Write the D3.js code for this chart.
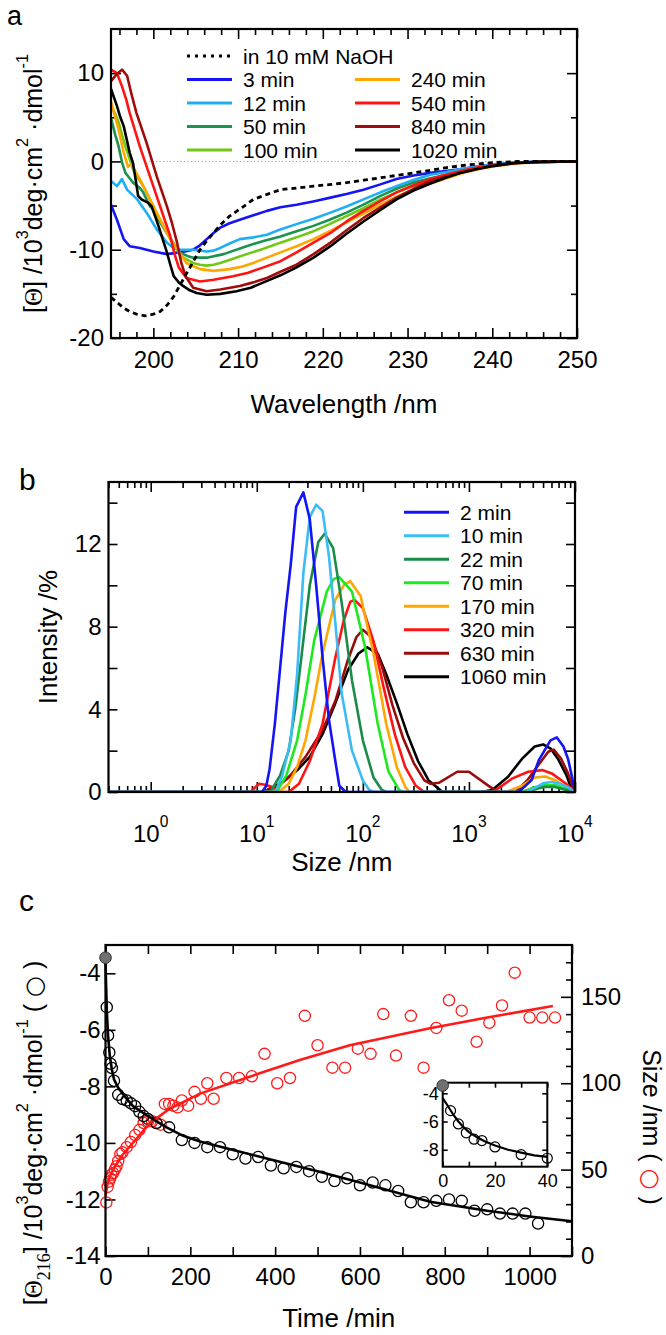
<!DOCTYPE html>
<html><head><meta charset="utf-8">
<script src="https://cdn.jsdelivr.net/npm/d3@7"></script>
<style>body{margin:0;background:#fff}svg{display:block}text{font-family:"Liberation Sans",Arial,Helvetica,sans-serif;fill:#000}</style>
</head><body>
<script>
// ---------------- Panel a data (wavelength nm, [Θ] 10^3 deg cm2 dmol-1) ----------------
const aNaOH=[[195,-15.4],[195.5,-15.8],[196.5,-16.6],[197.2,-17.0],[198,-17.3],[199,-17.5],[200,-17.3],[200.8,-17.0],[201.6,-16.3],[202.4,-15.3],[203.5,-13.4],[204.5,-11.7],[205.5,-10.0],[206.3,-9.0],[207.1,-8.1],[208,-7.1],[209,-6.2],[210.5,-5.2],[211.8,-4.3],[213.5,-3.7],[215,-3.2],[217,-3.0],[218.9,-2.8],[221,-2.6],[222.8,-2.4],[225,-2.1],[226.8,-1.85],[229,-1.55],[230.7,-1.3],[232.7,-1.0],[234.6,-0.7],[237,-0.4],[240,-0.15],[243,0],[250,0]];
const a3=[[195,-4.9],[195.7,-6.6],[196.5,-8.8],[197.2,-9.6],[198.4,-9.8],[199.2,-10.0],[200,-10.2],[201.6,-10.5],[203.1,-10.3],[204.7,-10.0],[205.5,-9.5],[206.3,-8.8],[207.1,-8.1],[207.9,-7.5],[209,-7.0],[210.2,-6.6],[211.8,-6.1],[213.4,-5.6],[215,-5.2],[216.9,-4.9],[219,-4.5],[220.9,-4.1],[222.8,-3.7],[224.8,-3.2],[226.8,-2.6],[228.7,-2.0],[230.7,-1.6],[232.7,-1.3],[234.5,-1.1],[236.2,-0.9],[238,-0.6],[240,-0.35],[242,-0.15],[245,-0.05],[250,0]];
const a12=[[195,-2.2],[195.7,-2.8],[196.3,-2.0],[196.9,-3.2],[198.1,-4.3],[199.2,-5.8],[200.4,-7.7],[201.6,-9.2],[202.4,-9.8],[203.1,-10.0],[204.7,-10.0],[206.3,-10.2],[207.1,-10.1],[207.9,-9.8],[209,-9.3],[210.2,-8.8],[211.8,-8.6],[213.4,-8.3],[215,-7.7],[216.9,-7.1],[218.9,-6.5],[220.9,-5.8],[222.8,-5.1],[224.8,-4.3],[226.8,-3.5],[228.7,-2.8],[230.7,-2.1],[232.7,-1.5],[234.6,-1.2],[236.2,-0.9],[238,-0.6],[240,-0.35],[242,-0.15],[245,-0.05],[250,0]];
const a50=[[195,4.9],[195.5,3.0],[195.9,1.7],[196.3,-0.1],[196.7,-1.3],[197.2,-1.9],[197.6,-2.4],[198.4,-3.0],[198.8,-3.5],[199.6,-5.1],[200,-5.4],[200.8,-6.9],[201.6,-8.1],[202.4,-9.3],[203.1,-10.3],[204,-10.7],[204.7,-10.9],[206.3,-10.9],[208.3,-10.5],[211,-9.6],[213,-9.0],[215,-8.5],[216.9,-7.9],[218.9,-7.3],[220.8,-6.6],[222.8,-5.8],[224.8,-4.9],[226.8,-3.9],[228.7,-3.1],[230.7,-2.4],[232.7,-1.9],[234.6,-1.5],[236.5,-1.1],[238.5,-0.7],[240.5,-0.4],[243,-0.15],[246,-0.05],[250,0]];
const a100=[[195,6.3],[195.5,5.4],[195.9,4.4],[196.3,3.0],[196.7,1.7],[197.2,0.3],[197.6,-0.9],[198.2,-1.9],[198.8,-2.8],[199.4,-3.9],[200,-5.1],[200.8,-6.6],[201.6,-8.1],[202.2,-9.1],[202.8,-10.0],[203.1,-10.6],[203.9,-11.1],[204.7,-11.5],[205.5,-11.7],[206.3,-11.8],[207.1,-11.7],[207.9,-11.5],[209.5,-11.0],[211,-10.5],[213,-9.9],[215,-9.2],[216.9,-8.6],[218.9,-7.9],[220.8,-7.1],[222.8,-6.2],[224.8,-5.3],[226.8,-4.3],[228.7,-3.5],[230.7,-2.8],[232.7,-2.2],[234.6,-1.7],[236.5,-1.2],[238.5,-0.8],[240.5,-0.45],[243,-0.15],[246,-0.05],[250,0]];
const a240=[[195,6.8],[195.5,5.0],[195.9,3.6],[196.5,1.0],[197,-0.6],[197.4,-0.3],[198.4,-2.0],[199.6,-4.3],[200.8,-6.6],[202,-8.8],[203.1,-10.3],[203.9,-11.5],[205.5,-12.2],[207.1,-12.4],[209,-12.2],[210.5,-11.9],[211.8,-11.5],[213.4,-10.9],[215,-10.3],[216.9,-9.6],[218.9,-8.8],[220.8,-7.9],[222.8,-6.9],[224.8,-5.9],[226.8,-4.9],[228.7,-4.0],[230.7,-3.2],[232.7,-2.5],[234.6,-1.9],[236.5,-1.3],[238.5,-0.85],[240.5,-0.5],[243,-0.2],[246,-0.05],[250,0]];
const a540=[[195,10.4],[195.7,10.0],[196.3,8.5],[196.8,7.0],[197.2,5.5],[197.8,3.6],[198.4,1.7],[199,0.0],[199.6,-1.7],[200.2,-3.4],[200.8,-5.1],[201.4,-6.8],[202,-8.5],[202.5,-10.5],[203,-12.0],[203.9,-13.2],[205.5,-13.6],[207.1,-13.4],[209.4,-13.0],[211.2,-12.6],[213,-12.0],[215,-11.3],[216.9,-10.3],[218.9,-9.2],[220.9,-8.1],[222.8,-6.8],[224.8,-5.6],[226.8,-4.5],[228.7,-3.5],[230.7,-2.7],[232.7,-2.0],[234.5,-1.5],[236.2,-1.1],[238.2,-0.7],[240.2,-0.4],[243,-0.15],[246,-0.05],[250,0]];
const a840=[[195,9.1],[195.7,9.9],[196.3,10.4],[196.9,9.7],[197.4,7.7],[198,5.5],[198.6,3.8],[199.2,2.1],[199.8,0.2],[200.4,-1.7],[201,-3.4],[201.6,-5.1],[202.2,-7.0],[202.8,-9.2],[203.3,-11.5],[203.8,-13.0],[204.7,-14.3],[206.3,-14.7],[207.9,-14.5],[210.2,-14.1],[211.8,-13.7],[213.4,-13.2],[215,-12.5],[216.9,-11.7],[218.9,-10.5],[220.9,-9.2],[222.8,-7.8],[224.8,-6.4],[226.8,-5.2],[228.7,-4.1],[230.7,-3.1],[232.7,-2.2],[234.5,-1.7],[236.2,-1.3],[238.2,-0.85],[240.2,-0.5],[242.5,-0.2],[245.5,-0.05],[250,0]];
const a1020=[[195,8.2],[195.7,6.3],[196.1,5.0],[196.5,4.0],[196.9,2.3],[197.2,1.0],[197.6,-0.2],[197.9,-2.0],[198.2,-3.9],[198.6,-4.3],[199,-4.5],[199.4,-4.7],[199.8,-5.1],[200.2,-6.2],[200.6,-7.3],[201.1,-8.8],[201.6,-10.3],[202,-11.7],[202.4,-13.0],[203,-13.7],[203.5,-14.1],[204.3,-14.6],[205.1,-14.9],[206.3,-15.1],[207.9,-15.0],[209.8,-14.7],[211.5,-14.3],[213,-13.7],[215,-12.9],[216.9,-12.0],[218.9,-10.9],[220.9,-9.6],[222.8,-8.2],[224.8,-6.8],[226.8,-5.5],[228.7,-4.3],[230.7,-3.3],[232.7,-2.5],[234.5,-1.85],[236.2,-1.3],[238.2,-0.85],[240.2,-0.5],[242.5,-0.2],[245.5,-0.05],[250,0]];
const aSeriesLabels=["3 min","12 min","50 min","100 min","240 min","540 min","840 min","1020 min"];
const aColors=["#1414f5","#1eaef5","#1a9450","#70c814","#ffa600","#ff1414","#a00c0c","#000000"];
const aXTicks=[200,210,220,230,240,250];
const aYTicks=[-20,-10,0,10];

// ---------------- Panel b data (size nm, intensity %) ----------------
const b2=[[0.4,0],[11.2,0],[12.3,0.3],[13.2,1.1],[14.8,3.3],[16.6,6.0],[18.6,8.7],[20.9,11.0],[23.5,13.8],[27.5,14.5],[31.6,13.2],[36.3,10.0],[41.7,6.5],[47.9,3.5],[55,1.5],[60,0.3],[69,0],[2950,0],[3900,0.58],[4560,1.54],[5870,2.5],[6740,2.64],[7780,2.2],[8600,1.6],[9400,0.7],[10000,0]];
const b10=[[0.4,0],[15,0],[17.4,0.8],[20.9,2.5],[24,5.7],[27.5,10.6],[31.6,13.3],[36.3,13.9],[41.7,13.6],[47.9,11.4],[55,8.2],[63,4.8],[79,2.0],[100,0.56],[115,0.1],[126,0],[3500,0],[4200,0.2],[5000,0.42],[6000,0.48],[7200,0.4],[8500,0.25],[10000,0]];
const b22=[[0.4,0],[13,0],[13.8,0.1],[16.6,0.8],[20,2.0],[23,4.0],[26.3,6.5],[31.6,10],[38,12.1],[43.6,12.5],[52.5,11.8],[63,9.2],[79,5.4],[100,2.5],[126,0.7],[151,0.1],[166,0],[3500,0],[4300,0.15],[5200,0.25],[6300,0.25],[7600,0.15],[10000,0]];
const b70=[[0.4,0],[14,0],[15.8,0.1],[19,0.8],[24,2.5],[29,4.8],[34.7,7.3],[45.7,9.7],[53,10.3],[60,10.4],[79,9.7],[105,7.0],[138,3.3],[174,1.0],[219,0.1],[240,0],[3160,0],[4000,0.2],[5000,0.33],[6600,0.33],[8300,0.15],[10000,0]];
const b170=[[0.4,0],[15,0],[17,0.1],[20,0.4],[24,1.2],[28.8,2.5],[34.7,4.5],[41.7,6.7],[55,9.3],[66,10.0],[76,10.2],[95,9.5],[126,6.7],[166,3.3],[209,1.2],[251,0.25],[275,0],[2240,0],[3160,0.3],[4170,0.7],[5250,0.75],[6600,0.55],[8300,0.25],[10000,0]];
const b320=[[0.4,0],[8.7,0],[10.5,0.4],[12,0.35],[13.8,0.25],[16.6,0],[20,0],[25,0.4],[31.6,1.5],[41.7,3.3],[55,6.5],[66,8.3],[76,9.2],[83,9.3],[100,8.9],[126,7.3],[158,5.0],[200,2.8],[251,1.2],[316,0.3],[380,0],[1700,0],[1800,0.1],[2570,0.66],[3630,0.98],[4900,1.06],[6030,0.9],[8130,0.42],[10000,0]];
const b630=[[0.4,0],[11.5,0],[12,0.05],[16,0.3],[20,0.7],[28.8,1.7],[41.7,3.0],[55,4.4],[72.4,6.4],[87,7.5],[100,7.85],[120,7.5],[151,6.1],[190,4.2],[240,2.6],[302,1.4],[380,0.56],[436,0.4],[525,0.45],[776,0.98],[1000,0.98],[1580,0.25],[1900,0],[2750,0],[3600,0.6],[4500,1.3],[5600,1.95],[6300,2.05],[7400,1.6],[8600,0.9],[10000,0]];
const b1060=[[0.4,0],[11.5,0],[16.6,0.4],[24,1.05],[31.6,1.7],[41.7,2.8],[55,4.3],[72.4,5.9],[91,6.7],[110,7.0],[138,6.7],[166,5.7],[209,4.3],[263,2.8],[331,1.5],[417,0.56],[550,0.05],[580,0],[1300,0],[1660,0.1],[2340,0.74],[3160,1.6],[4170,2.2],[5010,2.3],[5890,2.1],[6920,1.6],[8320,0.8],[9330,0.1],[10000,0]];
const bSeriesLabels=["2 min","10 min","22 min","70 min","170 min","320 min","630 min","1060 min"];
const bColors=["#1414f5","#3cbcf5","#1a8c48","#1ee81e","#ffa600","#ff1414","#9a0c0c","#000000"];
const bXTicks=[1,10,100,1000,10000];
const bXExp=[0,1,2,3,4];
const bYTicks=[0,4,8,12];

// ---------------- Panel c data ----------------
const cThetaT=[3,6,9,12,15,20,30,40,50,60,70,80,90,100,120,150,180,210,240,270,300,330,360,390,420,450,480,510,540,570,600,630,660,690,720,750,780,810,840,870,900,930,960,990,1020];
const cThetaV=[-5.2,-6.2,-6.8,-7.2,-7.35,-7.8,-8.3,-8.45,-8.5,-8.6,-8.7,-8.9,-9.05,-9.15,-9.3,-9.45,-9.9,-10.0,-10.15,-10.15,-10.4,-10.55,-10.5,-10.8,-10.9,-10.85,-11.0,-11.2,-11.35,-11.25,-11.5,-11.4,-11.5,-11.7,-12.1,-12.1,-12.05,-12.0,-12.05,-12.4,-12.35,-12.5,-12.5,-12.5,-12.85];
const cTheta0=[0,-3.45];
const cThetaFitT=[0,1,3,6,10,15,20,30,45,65,105,144,183,223,301,380,500,600,765,900,1000,1100];
const cThetaFitV=[-3.45,-4.2,-5.3,-6.2,-6.9,-7.4,-7.75,-8.05,-8.35,-8.7,-9.1,-9.45,-9.75,-9.95,-10.25,-10.55,-11.0,-11.4,-12.08,-12.4,-12.6,-12.77];
const cSizeT=[2,5,8,11,14,18,22,26,30,35,40,50,60,70,80,90,100,110,120,130,140,150,160,170,180,195,210,225,240,255,285,315,345,375,405,435,470,500,535,565,595,625,655,685,720,750,780,810,840,875,905,935,965,1000,1030,1060];
const cSizeV=[31,40,43,45,47,48,50,52,55,59,60,63,66,70,73,77,78,78,77,76,88,88,87,86,90,87,95,91,100,91,103,103,104,117,100,103,139,122,109,109,120,117,140,116,139,109,132,148,142,124,135,145,164,138,138,138];
const cSizeFitT=[0,5,10,20,40,70,105,150,223,340,458,576,765,900,1055];
const cSizeFitV=[35,42,46,51,58.5,67,77,85,94,103.8,113.4,122,131.8,138,144.7];
const insetT=[3,6,9,12,15,20,30,40];
const insetV=[-5.23,-6.17,-6.8,-7.25,-7.35,-7.8,-8.35,-8.6];
const insetFitT=[0,2,4,6,8,10,13,16,20,25,30,35,40];
const insetFitV=[-4.35,-4.9,-5.5,-6.0,-6.4,-6.75,-7.1,-7.4,-7.7,-8.0,-8.2,-8.4,-8.5];
const cXTicks=[0,200,400,600,800,1000];
const cYTicks=[-14,-12,-10,-8,-6,-4];
const cRTicks=[0,50,100,150];

// ---------------- drawing ----------------
const svg=d3.select("body").append("svg").attr("width",666).attr("height",1335);
const FS=24, LFS=21, LSP=23.5;
function rich(t,parts,fs,supShift){
  let off=0; supShift=supShift||0.5;
  parts.forEach(p=>{
    const ts=t.append("tspan").text(p.t);
    const target=p.k==="sup"?-supShift*fs:p.k==="sub"?0.3*fs:0;
    if(target-off!==0) ts.attr("dy",target-off);
    off=target;
    if(p.k) ts.attr("font-size",fs*0.65);
    if(p.ff) ts.attr("font-family",p.ff);
    if(p.fill) ts.attr("fill",p.fill);
    if(p.fs) ts.attr("font-size",p.fs);
  });
}
function clean(g){g.select(".domain").remove();g.selectAll("line").attr("stroke","#000").attr("stroke-width",1.6);g.selectAll("text").attr("font-size",FS).attr("fill","#000");}
function frame(x0,y0,x1,y1,fill){svg.append("rect").attr("x",x0).attr("y",y0).attr("width",x1-x0).attr("height",y1-y0).attr("fill",fill||"none").attr("stroke","#000").attr("stroke-width",2.2);}
function clip(id,x0,y0,x1,y1){svg.append("clipPath").attr("id",id).append("rect").attr("x",x0).attr("y",y0).attr("width",x1-x0).attr("height",y1-y0);}

// ===== Panel a =====
const aL=111,aR=577,aT=29,aB=338;
const xA=d3.scaleLinear([195,250],[aL,aR]), yA=d3.scaleLinear([-20,15],[aB,aT]);
clip("ca",aL,aT,aR,aB);
const aMinorX=d3.range(196,251,2).filter(v=>v%10!==0);
svg.append("g").attr("transform",`translate(0,${aB})`).call(d3.axisBottom(xA).tickValues(aXTicks).tickSize(-10).tickPadding(13)).call(clean);
svg.append("g").attr("transform",`translate(0,${aB})`).call(d3.axisBottom(xA).tickValues(aMinorX).tickSize(-6).tickFormat("")).call(clean);
svg.append("g").attr("transform",`translate(0,${aT})`).call(d3.axisTop(xA).tickValues(aXTicks).tickSize(-10).tickFormat("")).call(clean);
svg.append("g").attr("transform",`translate(0,${aT})`).call(d3.axisTop(xA).tickValues(aMinorX).tickSize(-6).tickFormat("")).call(clean);
svg.append("g").attr("transform",`translate(${aL},0)`).call(d3.axisLeft(yA).tickValues(aYTicks).tickSize(-10).tickPadding(7).tickFormat(d=>d<0?"-"+Math.abs(d):d)).call(clean);
svg.append("g").attr("transform",`translate(${aL},0)`).call(d3.axisLeft(yA).tickValues([-15,-5,5]).tickSize(-6).tickFormat("")).call(clean);
svg.append("g").attr("transform",`translate(${aR},0)`).call(d3.axisRight(yA).tickValues(aYTicks).tickSize(-10).tickFormat("")).call(clean);
svg.append("g").attr("transform",`translate(${aR},0)`).call(d3.axisRight(yA).tickValues([-15,-5,5]).tickSize(-6).tickFormat("")).call(clean);
svg.append("line").attr("x1",xA(199.5)).attr("x2",aR).attr("y1",yA(0)).attr("y2",yA(0)).attr("stroke","#888").attr("stroke-width",1).attr("stroke-dasharray","1,2.5");
const lineA=d3.line().x(d=>xA(d[0])).y(d=>yA(d[1]));
const aSeries=[a3,a12,a50,a100,a240,a540,a840,a1020];
const gA=svg.append("g").attr("clip-path","url(#ca)");
aSeries.forEach((s,i)=>gA.append("path").attr("d",lineA(s)).attr("fill","none").attr("stroke",aColors[i]).attr("stroke-width",2.6).attr("stroke-linejoin","round"));
gA.append("path").attr("d",lineA(aNaOH)).attr("fill","none").attr("stroke","#000").attr("stroke-width",2.8).attr("stroke-dasharray","5,4");
frame(aL,aT,aR,aB);
// legend a
const aRowY=d3.range(5).map(i=>103+(i-2)*LSP);
svg.append("line").attr("x1",187).attr("x2",232).attr("y1",aRowY[0]).attr("y2",aRowY[0]).attr("stroke","#000").attr("stroke-width",3).attr("stroke-dasharray","3,5");
svg.append("text").attr("x",243).attr("y",aRowY[0]+7.5).attr("font-size",LFS).text("in 10 mM NaOH");
aSeriesLabels.forEach((lab,i)=>{
  const col=i<4?0:1, row=(i%4)+1;
  const x0=col?355:187;
  svg.append("line").attr("x1",x0).attr("x2",x0+45).attr("y1",aRowY[row]).attr("y2",aRowY[row]).attr("stroke",aColors[i]).attr("stroke-width",3);
  svg.append("text").attr("x",x0+56).attr("y",aRowY[row]+7.5).attr("font-size",LFS).text(lab);
});
svg.append("text").attr("x",7).attr("y",25).attr("font-size",27).text("a");
svg.append("text").attr("x",(aL+aR)/2).attr("y",413).attr("text-anchor","middle").attr("font-size",26).text("Wavelength /nm");
{const t=svg.append("text").attr("transform",`translate(42,${(aT+aB)/2}) rotate(-90)`).attr("text-anchor","middle").attr("font-size",25);
 rich(t,[{t:"["},{t:"Θ",ff:"Liberation Serif"},{t:"] /10"},{t:"3",k:"sup"},{t:"deg·cm"},{t:"2",k:"sup"},{t:" ·dmol"},{t:"-1",k:"sup"}],25,0.55);}

// ===== Panel b =====
const bL=108.5,bR=575,bT=482,bB=792;
const xB=d3.scaleLog([0.4,10000],[bL,bR]), yB=d3.scaleLinear([0,15],[bB,bT]);
clip("cb",bL,bT,bR,bB);
const bMinor=[];[0.1,1,10,100,1000].forEach(d=>{for(let k=2;k<=9;k++){const v=d*k;if(v>=0.4&&v<10000)bMinor.push(v);}});
[[d3.axisBottom,bB],[d3.axisTop,bT]].forEach(([ax,yy])=>{
  svg.append("g").attr("transform",`translate(0,${yy})`).call(ax(xB).tickValues(bXTicks).tickSize(-10).tickFormat("")).call(clean);
  svg.append("g").attr("transform",`translate(0,${yy})`).call(ax(xB).tickValues(bMinor).tickSize(-6).tickFormat("")).call(clean);
});
svg.append("g").attr("transform",`translate(${bL},0)`).call(d3.axisLeft(yB).tickValues(d3.range(0,15,2)).tickSize(-9).tickPadding(7).tickFormat(d=>bYTicks.includes(d)?d:"")).call(clean);
svg.append("g").attr("transform",`translate(${bR},0)`).call(d3.axisRight(yB).tickValues(d3.range(0,15,2)).tickSize(-9).tickFormat("")).call(clean);
bXTicks.forEach((v,i)=>{const t=svg.append("text").attr("x",xB(v)).attr("y",842).attr("text-anchor","middle").attr("font-size",FS);rich(t,[{t:"10"},{t:String(bXExp[i]),k:"sup"}],FS,0.62);});
const lineB=d3.line().x(d=>xB(d[0])).y(d=>yB(d[1]));
const bSeries=[b2,b10,b22,b70,b170,b320,b630,b1060];
const gB=svg.append("g").attr("clip-path","url(#cb)");
for(let i=bSeries.length-1;i>=0;i--) gB.append("path").attr("d",lineB(bSeries[i])).attr("fill","none").attr("stroke",bColors[i]).attr("stroke-width",2.6).attr("stroke-linejoin","round");
frame(bL,bT,bR,bB);
const bRowY=d3.range(8).map(i=>594.5+(i-3.5)*LSP);
bSeriesLabels.forEach((lab,i)=>{
  svg.append("line").attr("x1",404).attr("x2",449).attr("y1",bRowY[i]).attr("y2",bRowY[i]).attr("stroke",bColors[i]).attr("stroke-width",3);
  svg.append("text").attr("x",460).attr("y",bRowY[i]+7.5).attr("font-size",LFS).text(lab);
});
svg.append("text").attr("x",19).attr("y",490).attr("font-size",30).text("b");
svg.append("text").attr("x",(bL+bR)/2).attr("y",871).attr("text-anchor","middle").attr("font-size",26).text("Size /nm");
svg.append("text").attr("transform",`translate(57,${(bT+bB)/2}) rotate(-90)`).attr("text-anchor","middle").attr("font-size",26).text("Intensity /%");

// ===== Panel c =====
const cL=105.5,cR=572,cT=945,cB=1256;
const xC=d3.scaleLinear([0,1100],[cL,cR]), yC=d3.scaleLinear([-14,-3],[cB,cT]), yR=d3.scaleLinear([0,180],[cB,cT]);
clip("cc",cL-8,cT-8,cR,cB);
const c100=d3.range(0,1101,100);
svg.append("g").attr("transform",`translate(0,${cB})`).call(d3.axisBottom(xC).tickValues(c100).tickSize(-9).tickPadding(12).tickFormat(d=>d%200===0?d:"")).call(clean);
svg.append("g").attr("transform",`translate(0,${cT})`).call(d3.axisTop(xC).tickValues(c100).tickSize(-9).tickFormat("")).call(clean);
svg.append("g").attr("transform",`translate(${cL},0)`).call(d3.axisLeft(yC).tickValues(cYTicks).tickSize(-10).tickPadding(5).tickFormat(d=>"-"+Math.abs(d))).call(clean);
svg.append("g").attr("transform",`translate(${cR},0)`).call(d3.axisRight(yR).tickValues(cRTicks).tickSize(-11).tickPadding(9)).call(clean);
svg.append("g").attr("transform",`translate(${cR},0)`).call(d3.axisRight(yR).tickValues(d3.range(10,180,10).filter(v=>v%50!==0)).tickSize(-6).tickFormat("")).call(clean);
const gC=svg.append("g").attr("clip-path","url(#cc)");
const lineT=d3.line().x(d=>xC(d[0])).y(d=>yC(d[1]));
const lineS=d3.line().x(d=>xC(d[0])).y(d=>yR(d[1]));
const red="#ff1a1a";
gC.selectAll(".rp").data(cSizeT.map((t,i)=>[t,cSizeV[i]])).join("circle").attr("cx",d=>xC(d[0])).attr("cy",d=>yR(d[1])).attr("r",5.6).attr("fill","none").attr("stroke",red).attr("stroke-width",1.3);
gC.selectAll(".bp").data(cThetaT.map((t,i)=>[t,cThetaV[i]])).join("circle").attr("cx",d=>xC(d[0])).attr("cy",d=>yC(d[1])).attr("r",5.6).attr("fill","none").attr("stroke","#000").attr("stroke-width",1.3);
gC.append("path").attr("d",lineS(cSizeFitT.map((t,i)=>[t,cSizeFitV[i]]))).attr("fill","none").attr("stroke",red).attr("stroke-width",2.6);
gC.append("path").attr("d",lineT(cThetaFitT.map((t,i)=>[t,cThetaFitV[i]]))).attr("fill","none").attr("stroke","#000").attr("stroke-width",2.6);
frame(cL,cT,cR,cB);
svg.append("circle").attr("cx",xC(cTheta0[0])).attr("cy",yC(cTheta0[1])).attr("r",5.8).attr("fill","#707070").attr("stroke","#333").attr("stroke-width",1);
// inset
const iL=442.7,iR=547.3,iT=1082.7,iB=1166.7;
const xI=d3.scaleLinear([0,40],[iL,iR]), yI=d3.scaleLinear([-9.2,-3.25],[iB,iT]);
svg.append("rect").attr("x",iL).attr("y",iT).attr("width",iR-iL).attr("height",iB-iT).attr("fill","#fff");
clip("ci",iL-8,iT-8,iR+8,iB);
const ifs=18;
function cleanI(g){clean(g);g.selectAll("text").attr("font-size",ifs);}
svg.append("g").attr("transform",`translate(0,${iB})`).call(d3.axisBottom(xI).tickValues([0,10,20,30,40]).tickSize(-5).tickPadding(8).tickFormat(d=>d%20===0?d:"")).call(cleanI);
svg.append("g").attr("transform",`translate(0,${iT})`).call(d3.axisTop(xI).tickValues([0,10,20,30,40]).tickSize(-5).tickFormat("")).call(cleanI);
svg.append("g").attr("transform",`translate(${iL},0)`).call(d3.axisLeft(yI).tickValues([-8,-6,-4]).tickSize(-5).tickPadding(4).tickFormat(d=>"-"+Math.abs(d))).call(cleanI);
svg.append("g").attr("transform",`translate(${iR},0)`).call(d3.axisRight(yI).tickValues([-8,-6,-4]).tickSize(-5).tickFormat("")).call(cleanI);
const gI=svg.append("g").attr("clip-path","url(#ci)");
const lineI=d3.line().x(d=>xI(d[0])).y(d=>yI(d[1]));
gI.selectAll("circle").data(insetT.map((t,i)=>[t,insetV[i]])).join("circle").attr("cx",d=>xI(d[0])).attr("cy",d=>yI(d[1])).attr("r",5).attr("fill","none").attr("stroke","#000").attr("stroke-width",1.2);
gI.append("path").attr("d",lineI(insetFitT.map((t,i)=>[t,insetFitV[i]]))).attr("fill","none").attr("stroke","#000").attr("stroke-width",2.2);
svg.append("rect").attr("x",iL).attr("y",iT).attr("width",iR-iL).attr("height",iB-iT).attr("fill","none").attr("stroke","#000").attr("stroke-width",2);
svg.append("circle").attr("cx",xI(0)).attr("cy",yI(cTheta0[1])).attr("r",5.8).attr("fill","#707070").attr("stroke","#333").attr("stroke-width",1);
// labels c
svg.append("text").attr("x",19).attr("y",911).attr("font-size",30).text("c");
svg.append("text").attr("x",(cL+cR)/2).attr("y",1327).attr("text-anchor","middle").attr("font-size",26).text("Time /min");
{const t=svg.append("text").attr("transform",`translate(42,1133) rotate(-90)`).attr("text-anchor","middle").attr("font-size",25);
 rich(t,[{t:"["},{t:"Θ",ff:"Liberation Serif"},{t:"216",k:"sub",ff:"Liberation Serif",fs:18},{t:"] /10"},{t:"3",k:"sup"},{t:"deg·cm"},{t:"2",k:"sup"},{t:" ·dmol"},{t:"-1",k:"sup"},{t:"  (  "},{t:"○",ff:"DejaVu Sans",fs:24},{t:"  )"}],25,0.55);}
{const t=svg.append("text").attr("transform",`translate(643,1127) rotate(90)`).attr("text-anchor","middle").attr("font-size",25);
 rich(t,[{t:"Size /nm  (  "},{t:"○",ff:"DejaVu Sans",fs:24,fill:red},{t:"  )"}],25);}
</script>
</body></html>
